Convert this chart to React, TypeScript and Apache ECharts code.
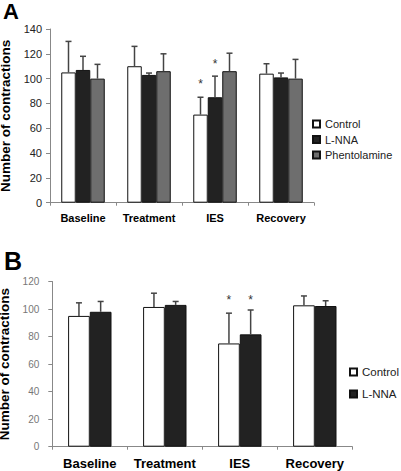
import React, { useEffect, useRef } from "react";
import * as echarts from "echarts";

const categories = ["Baseline", "Treatment", "IES", "Recovery"];

// Panel A
const aControl = [105, 110, 71, 104];
const aControlErr = [130, 126, 85, 112];
const aLnna = [107, 103, 85, 101];
const aLnnaErr = [118, 104.5, 102, 104.5];
const aPhent = [100, 106, 106, 100];
const aPhentErr = [111.5, 120, 120.5, 115.5];
const aStars = [
  [2, 0, 97],
  [2, 1, 113],
];

// Panel B
const bControl = [95, 101.5, 75, 102.7];
const bControlErr = [104.5, 111.5, 97, 109.5];
const bLnna = [98, 103, 81.6, 102.2];
const bLnnaErr = [105.5, 105.5, 99.3, 106];
const bStars = [
  [2, 0, 108],
  [2, 1, 108],
];

const FONT = "'Liberation Sans', Arial, sans-serif";

export default function App() {
  const ref = useRef<HTMLDivElement>(null);
  useEffect(() => {
    if (!ref.current) return;
    const chart = echarts.init(ref.current, null, { renderer: "svg" });

    const bwA = 14.5;
    const bwB = 21.7;

    const barSeries = (
      name: string,
      data: number[],
      color: string,
      idx: number,
      bw: number
    ) => ({
      type: "bar",
      name,
      data,
      xAxisIndex: idx,
      yAxisIndex: idx,
      barWidth: bw,
      barGap: "0%",
      itemStyle: { color, borderColor: "#111", borderWidth: 1 },
      z: 2,
    });

    const errSeries = (
      vals: number[],
      errs: number[],
      pos: number,
      n: number,
      bw: number,
      idx: number
    ) => ({
      type: "custom",
      name: "err",
      xAxisIndex: idx,
      yAxisIndex: idx,
      z: 3,
      silent: true,
      data: vals.map((v, i) => [i, v, errs[i]]),
      encode: { x: 0, y: [1, 2] },
      renderItem: (params: any, api: any) => {
        const off = (pos - (n - 1) / 2) * bw;
        const p1 = api.coord([api.value(0), api.value(1)]);
        const p2 = api.coord([api.value(0), api.value(2)]);
        const x = p1[0] + off;
        const st = { stroke: "#444", lineWidth: 1.5 };
        return {
          type: "group",
          children: [
            { type: "line", shape: { x1: x, y1: p1[1], x2: x, y2: p2[1] }, style: st },
            { type: "line", shape: { x1: x - 3, y1: p2[1], x2: x + 3, y2: p2[1] }, style: st },
          ],
        };
      },
    });

    const starSeries = (stars: number[][], n: number, bw: number, idx: number) => ({
      type: "custom",
      name: "stars",
      xAxisIndex: idx,
      yAxisIndex: idx,
      z: 4,
      silent: true,
      data: stars,
      encode: { x: 0, y: 2 },
      renderItem: (params: any, api: any) => {
        const pos = api.value(1);
        const off = (pos - (n - 1) / 2) * bw;
        const p = api.coord([api.value(0), api.value(2)]);
        return {
          type: "text",
          x: p[0] + off,
          y: p[1] + 2,
          style: {
            text: "*",
            fontSize: 12,
            fontFamily: FONT,
            fill: "#333",
            align: "center",
            verticalAlign: "middle",
          },
        };
      },
    });

    const yAxis = (idx: number, max: number, labelColor: string, labelSize: number, margin: number, gap: number) => ({
      type: "value",
      gridIndex: idx,
      min: 0,
      max,
      interval: 20,
      name: "Number of contractions",
      nameLocation: "middle",
      nameRotate: 90,
      nameGap: gap,
      nameTextStyle: { fontFamily: FONT, fontSize: 13.5, fontWeight: "bold", color: "#000", lineHeight: 14 },
      axisLine: { show: true, lineStyle: { color: "#888", width: 1 } },
      axisTick: { show: true, length: 4, lineStyle: { color: "#888" } },
      splitLine: { show: false },
      axisLabel: { fontFamily: FONT, fontSize: labelSize, color: labelColor, margin },
    });

    const xAxis = (idx: number, size: number, margin: number) => ({
      type: "category",
      gridIndex: idx,
      data: categories,
      axisLine: { lineStyle: { color: "#888", width: 1 } },
      axisTick: { show: true, length: 3, lineStyle: { color: "#888" } },
      axisLabel: { interval: 0, fontFamily: FONT, fontSize: size, fontWeight: "bold", color: "#000", margin },
    });

    chart.setOption({
      animation: false,
      backgroundColor: "#fff",
      grid: [
        { left: 50, top: 29, width: 264, height: 173.7, outerBoundsMode: "none", containLabel: false },
        { left: 52.3, top: 281.5, width: 300, height: 165.2, outerBoundsMode: "none", containLabel: false },
      ],
      xAxis: [xAxis(0, 11, 10), xAxis(1, 13, 10)],
      yAxis: [
        yAxis(0, 140, "#222", 11, 8, 30),
        yAxis(1, 120, "#777", 10, 13, 32),
      ],
      legend: [
        {
          data: ["Control", "L-NNA", "Phentolamine"],
          orient: "vertical",
          left: 307,
          top: 113,
          itemWidth: 7,
          itemHeight: 7,
          itemGap: 3.5,
          icon: "rect",
          selectedMode: false,
          textStyle: { fontFamily: FONT, fontSize: 11, color: "#222", lineHeight: 12 },
        },
        {
          data: ["Control", "L-NNA"],
          orient: "vertical",
          left: 344,
          top: 361,
          itemWidth: 7,
          itemHeight: 7,
          itemGap: 10,
          icon: "rect",
          selectedMode: false,
          textStyle: { fontFamily: FONT, fontSize: 11.5, color: "#222", lineHeight: 12 },
        },
      ],
      graphic: [
        { type: "text", left: 3, top: 0, style: { text: "A", fontFamily: FONT, fontSize: 22, fontWeight: "bold", fill: "#000" } },
        { type: "text", left: 4, top: 248, style: { text: "B", fontFamily: FONT, fontSize: 25, fontWeight: "bold", fill: "#000" } },
      ],
      series: [
        barSeries("Control", aControl, "#ffffff", 0, bwA),
        barSeries("L-NNA", aLnna, "#222222", 0, bwA),
        barSeries("Phentolamine", aPhent, "#6e6e6e", 0, bwA),
        errSeries(aControl, aControlErr, 0, 3, bwA, 0),
        errSeries(aLnna, aLnnaErr, 1, 3, bwA, 0),
        errSeries(aPhent, aPhentErr, 2, 3, bwA, 0),
        starSeries(aStars, 3, bwA, 0),
        barSeries("Control", bControl, "#ffffff", 1, bwB),
        barSeries("L-NNA", bLnna, "#222222", 1, bwB),
        errSeries(bControl, bControlErr, 0, 2, bwB, 1),
        errSeries(bLnna, bLnnaErr, 1, 2, bwB, 1),
        starSeries(bStars, 2, bwB, 1),
      ],
    });
    return () => chart.dispose();
  }, []);
  return (
    <div
      ref={ref}
      style={{ position: "fixed", left: 0, top: 0, width: 401, height: 471, background: "#fff" }}
    />
  );
}
